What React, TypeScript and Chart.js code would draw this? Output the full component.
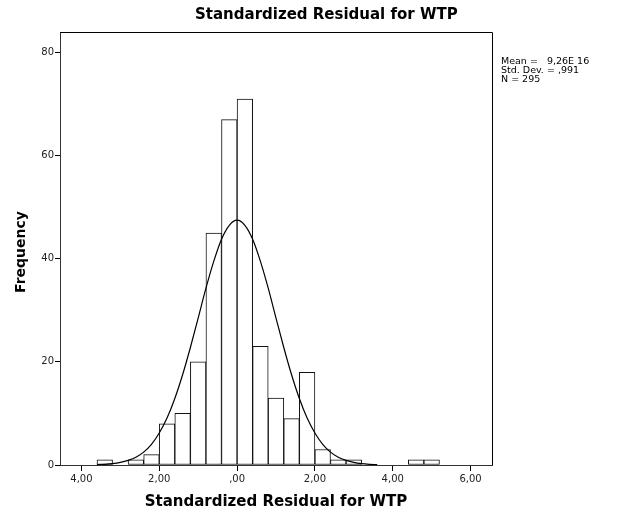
import React, { useEffect, useRef } from "react";
import { Chart, registerables } from "chart.js";

Chart.register(...registerables);

// Histogram bins (centers) and frequencies
const binCenters = [-3.4, -3.0, -2.6, -2.2, -1.8, -1.4, -1.0, -0.6, -0.2, 0.2, 0.6, 1.0, 1.4, 1.8, 2.2, 2.6, 3.0, 4.6, 5.0];
const frequencies = [1, 0, 1, 2, 8, 10, 20, 45, 67, 71, 23, 13, 9, 18, 3, 1, 1, 1, 1];

// Normal curve
const curveX = [-3.6, -3.4, -3.2, -3.0, -2.8, -2.6, -2.4, -2.2, -2.0, -1.8, -1.6, -1.4, -1.2, -1.0, -0.8, -0.6, -0.4, -0.2, 0, 0.2, 0.4, 0.6, 0.8, 1.0, 1.2, 1.4, 1.6, 1.8, 2.0, 2.2, 2.4, 2.6, 2.8, 3.0, 3.2, 3.4, 3.6];
const curveY = [0.06, 0.13, 0.26, 0.5, 0.9, 1.5, 2.5, 4.0, 6.2, 9.1, 12.9, 17.5, 22.8, 28.5, 34.3, 39.5, 43.8, 46.5, 47.5, 46.5, 43.8, 39.5, 34.3, 28.5, 22.8, 17.5, 12.9, 9.1, 6.2, 4.0, 2.5, 1.5, 0.9, 0.5, 0.26, 0.13, 0.06];

const xTickValues = [-4, -2, 0, 2, 4, 6];
const xTickLabels = ["4,00", "2,00", ",00", "2,00", "4,00", "6,00"];
const yTickValues = [0, 20, 40, 60, 80];
const yTickLabels = ["0", "20", "40", "60", "80"];

const chartTitle = "Standardized Residual for WTP";
const xTitle = "Standardized Residual for WTP";
const yTitle = "Frequency";
const statsLines = ["Mean =   9,26E 16", "Std. Dev. = ,991", "N = 295"];

const decorPlugin = {
  id: "decor",
  afterDraw(chart: any) {
    const { ctx, chartArea } = chart;
    const { left, right, top, bottom } = chartArea;
    ctx.save();
    // frame top & right
    ctx.strokeStyle = "#000";
    ctx.lineWidth = 1;
    ctx.beginPath();
    ctx.moveTo(left, top + 0.5);
    ctx.lineTo(right + 0.5, top + 0.5);
    ctx.lineTo(right + 0.5, bottom);
    ctx.stroke();
    // title
    ctx.fillStyle = "#000";
    ctx.font = "bold 15px 'DejaVu Sans'";
    ctx.textAlign = "left";
    ctx.textBaseline = "alphabetic";
    ctx.fillText(chartTitle, 195, 19);
    // x title
    ctx.font = "bold 15px 'DejaVu Sans'";
    ctx.textAlign = "center";
    ctx.fillText(xTitle, 276, 506);
    // y title
    ctx.save();
    ctx.translate(25, 252);
    ctx.rotate(-Math.PI / 2);
    ctx.textAlign = "center";
    ctx.font = "bold 14px 'DejaVu Sans'";
    ctx.fillText(yTitle, 0, 0);
    ctx.restore();
    // stats
    ctx.font = "9.5px 'DejaVu Sans'";
    ctx.textAlign = "left";
    statsLines.forEach((s, i) => ctx.fillText(s, 501, 64 + i * 9));
    ctx.restore();
  },
};

export default function App() {
  const ref = useRef<HTMLCanvasElement>(null);
  useEffect(() => {
    if (!ref.current) return;
    const chart = new Chart(ref.current, {
      type: "bar",
      data: {
        datasets: [
          {
            type: "line",
            data: curveX.map((x, i) => ({ x, y: curveY[i] })),
            borderColor: "#000",
            borderWidth: 1.2,
            pointRadius: 0,
            fill: false,
            cubicInterpolationMode: "monotone",
            order: 0,
          } as any,
          {
            type: "bar",
            data: binCenters.map((x, i) => ({ x, y: frequencies[i] })),
            backgroundColor: "#fff",
            borderColor: "#111",
            borderWidth: 1,
            borderSkipped: false,
            barPercentage: 1,
            categoryPercentage: 1,
            order: 1,
          } as any,
        ],
      },
      options: {
        animation: false,
        responsive: false,
        layout: { padding: { left: 30, right: 128, top: 32, bottom: 32 } },
        plugins: { legend: { display: false }, tooltip: { enabled: false }, title: { display: false } },
        scales: {
          x: {
            type: "linear",
            min: -4.55,
            max: 6.55,
            offset: false,
            afterBuildTicks: (s: any) => {
              s.ticks = xTickValues.map((v) => ({ value: v }));
            },
            afterFit: (s: any) => {
              s.height = 20;
            },
            ticks: {
              autoSkip: false,
              maxRotation: 0,
              color: "#222",
              font: { family: "'DejaVu Sans'", size: 10 },
              padding: 2,
              callback: (v: any) => xTickLabels[xTickValues.indexOf(Number(v))] ?? "",
            },
            grid: { offset: false, drawOnChartArea: false, drawTicks: true, tickLength: 6, color: "#000" },
            border: { display: true, color: "#333", width: 1 },
          },
          y: {
            type: "linear",
            min: 0,
            max: 84,
            afterBuildTicks: (s: any) => {
              s.ticks = yTickValues.map((v) => ({ value: v }));
            },
            afterFit: (s: any) => {
              s.width = 30;
            },
            ticks: {
              color: "#222",
              font: { family: "'DejaVu Sans'", size: 10 },
              padding: 1,
              callback: (v: any) => yTickLabels[yTickValues.indexOf(Number(v))] ?? "",
            },
            grid: { drawOnChartArea: false, drawTicks: true, tickLength: 5, color: "#000" },
            border: { display: true, color: "#333", width: 1 },
          },
        },
      },
      plugins: [decorPlugin],
    } as any);
    return () => chart.destroy();
  }, []);
  return (
    <div style={{ position: "absolute", left: 0, top: 0, width: 620, height: 517, background: "#fff" }}>
      <canvas ref={ref} width={620} height={517} />
    </div>
  );
}
